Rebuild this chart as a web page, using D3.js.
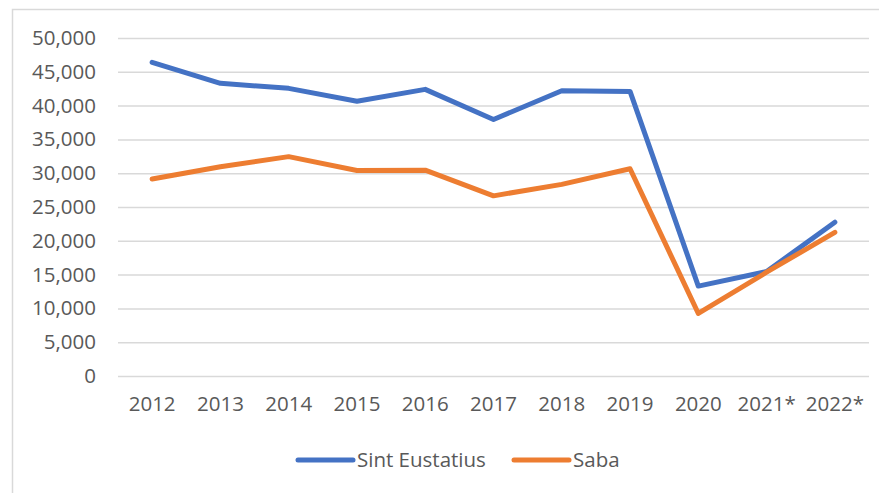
<!DOCTYPE html>
<html>
<head>
<meta charset="utf-8">
<script src="https://cdn.jsdelivr.net/npm/d3@7"></script>
<style>
  body { margin: 0; background: #fff; }
  text { font-family: "Open Sans", sans-serif; fill: #595959; }
</style>
</head>
<body>
<svg></svg>
<script>
// data
var years = ["2012", "2013", "2014", "2015", "2016", "2017", "2018", "2019", "2020", "2021*", "2022*"];
var sintEustatius = [46400, 43300, 42550, 40650, 42400, 37950, 42200, 42100, 13300, 15450, 22750];
var saba = [29150, 30950, 32450, 30400, 30450, 26650, 28350, 30650, 9250, 15350, 21250];
var yTicks = [0, 5000, 10000, 15000, 20000, 25000, 30000, 35000, 40000, 45000, 50000];

var series = [
  {name: "Sint Eustatius", values: sintEustatius, color: "#4472C4"},
  {name: "Saba", values: saba, color: "#ED7D31"}
];

var svg = d3.select("svg")
            .attr("width", 879)
            .attr("height", 493);

// chart frame (left + top edge visible)
svg.append("path")
    .attr("d", "M12.5,493V9.5H879")
    .style("fill", "none")
    .style("stroke", "#d9d9d9")
    .style("stroke-width", 1.5);

var margin = {top: 38, right: 10, bottom: 117, left: 118},
    width = 879 - margin.left - margin.right,
    height = 493 - margin.top - margin.bottom,
    g = svg.append("g").attr("transform", "translate(" + margin.left + "," + margin.top + ")");

//scales
var x = d3.scaleBand().domain(years).range([0, width]),
    y = d3.scaleLinear().domain([0, 50000]).range([height, 0]);

//gridlines
g.append("g")
    .attr("class", "grid")
    .call(d3.axisLeft(y).tickValues(yTicks).tickSize(-width).tickFormat(""))
    .call(function(a) {
        a.select(".domain").remove();
        a.selectAll("line").style("stroke", "#d9d9d9").style("stroke-width", 1.5);
    });

//y axis labels
g.append("g")
    .attr("class", "axis-y")
    .call(d3.axisLeft(y).tickValues(yTicks).tickSize(0).tickPadding(22).tickFormat(d3.format(",")))
    .call(function(a) {
        a.select(".domain").remove();
        a.selectAll("text").style("font-size", "20.5px").style("fill", "#595959");
    });

//x axis labels
g.append("g")
    .attr("class", "axis-x")
    .attr("transform", "translate(0," + height + ")")
    .call(d3.axisBottom(x).tickSize(0).tickPadding(20))
    .call(function(a) {
        a.select(".domain").remove();
        a.selectAll("text").style("font-size", "20.5px").style("fill", "#595959");
    });

//line generator
var line = d3.line()
    .x(function(d, i) { return x(years[i]) + x.bandwidth() / 2; })
    .y(function(d) { return y(d); });

g.selectAll(".series")
    .data(series)
    .enter()
    .append("path")
    .attr("class", "series")
    .attr("d", function(d) { return line(d.values); })
    .style("fill", "none")
    .style("stroke", function(d) { return d.color; })
    .style("stroke-width", 5)
    .style("stroke-linejoin", "round")
    .style("stroke-linecap", "round");

//legend
var legendX = [298, 514];
var legend = svg.selectAll(".legend")
    .data(series)
    .enter()
    .append("g")
    .attr("class", "legend")
    .attr("transform", function(d, i) { return "translate(" + legendX[i] + ",460)"; });

legend.append("line")
    .attr("x1", 0).attr("x2", 55)
    .style("stroke", function(d) { return d.color; })
    .style("stroke-width", 5)
    .style("stroke-linecap", "round");

legend.append("text")
    .attr("x", 59)
    .attr("dy", "0.35em")
    .style("font-size", "20.5px")
    .text(function(d) { return d.name; });
</script>
</body>
</html>
